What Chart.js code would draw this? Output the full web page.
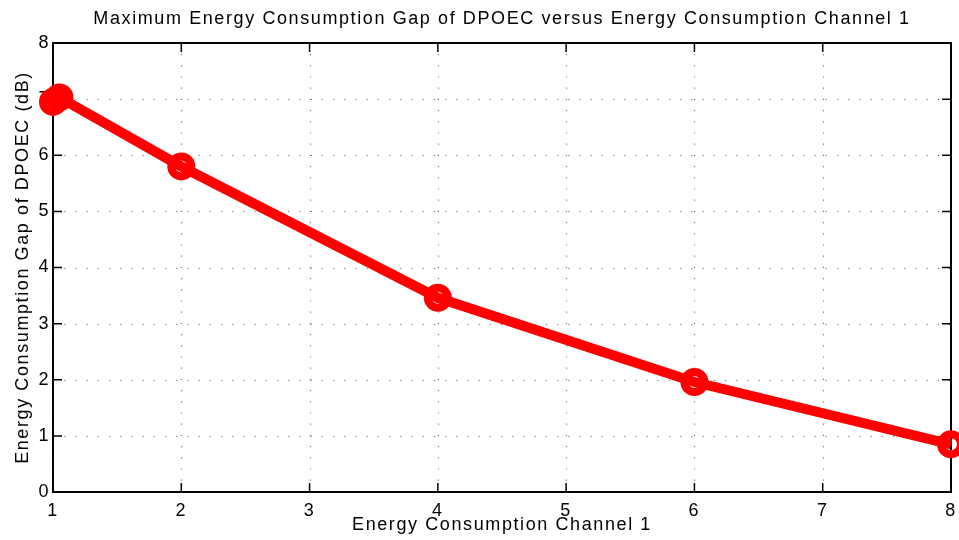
<!DOCTYPE html>
<html>
<head>
<meta charset="utf-8">
<script src="https://cdn.jsdelivr.net/npm/chart.js@4"></script>
<style>
  html, body { margin: 0; padding: 0; background: #fff; }
  #wrap { width: 959px; height: 540px; }
</style>
</head>
<body>
<div id="wrap"><canvas id="c" width="959" height="540"></canvas></div>
<script>
// Energy Consumption Channel 1 values and the corresponding maximum gap (dB)
const channelValues = [1, 1.05, 2, 4, 6, 8];
const gapValues = [6.95, 7.03, 5.80, 3.46, 1.96, 0.85];
const xTickValues = [1, 2, 3, 4, 5, 6, 7, 8];
const yTickValues = [0, 1, 2, 3, 4, 5, 6, 7, 8];

const titleText = 'Maximum Energy Consumption Gap of DPOEC versus Energy Consumption Channel 1';
const xTitleText = 'Energy Consumption Channel 1';
const yTitleText = 'Energy Consumption Gap of DPOEC (dB)';

const FONT = '"Liberation Sans", Arial, Helvetica, sans-serif';

const points = channelValues.map((x, i) => ({ x: x, y: gapValues[i] }));

// Slightly looser lettering, closer to a Helvetica look
const lettering = {
  id: 'lettering',
  beforeDraw(chart) { chart.ctx.letterSpacing = '1.6px'; },
  afterDraw(chart) { chart.ctx.letterSpacing = '0px'; }
};

// Boxed axes with dotted grid and inward ticks on all four sides
const boxAxes = {
  id: 'boxAxes',
  beforeDatasetsDraw(chart) {
    const { ctx, chartArea: a, scales: { x, y } } = chart;
    const tick = 9;
    ctx.save();
    // dotted grid
    ctx.strokeStyle = '#777';
    ctx.lineWidth = 1.2;
    ctx.setLineDash([1.2, 10]);
    xTickValues.forEach(v => {
      const px = Math.round(x.getPixelForValue(v)) + 0.5;
      ctx.beginPath(); ctx.moveTo(px, a.bottom); ctx.lineTo(px, a.top); ctx.stroke();
    });
    yTickValues.forEach(v => {
      const py = Math.round(y.getPixelForValue(v)) + 0.5;
      ctx.beginPath(); ctx.moveTo(a.left, py); ctx.lineTo(a.right, py); ctx.stroke();
    });
    ctx.setLineDash([]);
    // inward ticks
    ctx.strokeStyle = '#000';
    ctx.lineWidth = 1.5;
    xTickValues.forEach(v => {
      const px = x.getPixelForValue(v);
      ctx.beginPath();
      ctx.moveTo(px, a.bottom); ctx.lineTo(px, a.bottom - tick);
      ctx.moveTo(px, a.top); ctx.lineTo(px, a.top + tick);
      ctx.stroke();
    });
    yTickValues.forEach(v => {
      const py = y.getPixelForValue(v);
      ctx.beginPath();
      ctx.moveTo(a.left, py); ctx.lineTo(a.left + tick, py);
      ctx.moveTo(a.right, py); ctx.lineTo(a.right - tick, py);
      ctx.stroke();
    });
    // frame
    ctx.lineWidth = 2;
    ctx.strokeRect(a.left, a.top, a.right - a.left, a.bottom - a.top);
    ctx.restore();
  }
};

new Chart(document.getElementById('c'), {
  type: 'line',
  data: {
    datasets: [{
      data: points,
      borderColor: '#ff0000',
      backgroundColor: 'rgba(0,0,0,0)',
      borderWidth: 10,
      pointRadius: 10,
      pointBorderWidth: 8,
      pointBorderColor: '#ff0000',
      pointBackgroundColor: 'rgba(0,0,0,0)',
      pointStyle: 'circle',
      tension: 0,
      clip: false
    }]
  },
  options: {
    responsive: false,
    animation: false,
    layout: { autoPadding: false, padding: { left: 0, right: 8, top: 0, bottom: 0 } },
    plugins: {
      legend: { display: false },
      tooltip: { enabled: false },
      title: {
        display: true,
        fullSize: false,
        text: titleText,
        color: '#000',
        font: { family: FONT, size: 18, weight: 'normal', lineHeight: 1.2 },
        padding: { top: 8.5, bottom: 12.9 }
      }
    },
    scales: {
      x: {
        type: 'linear',
        min: 1, max: 8,
        afterBuildTicks: s => { s.ticks = xTickValues.map(v => ({ value: v })); },
        afterFit: s => { s.height = 48; s.paddingLeft = 0; s.paddingRight = 0; },
        grid: { display: false, drawTicks: false, tickLength: 0 },
        border: { display: false },
        ticks: { color: '#000', font: { family: FONT, size: 18 }, padding: 8, maxRotation: 0 },
        title: {
          display: true, text: xTitleText, color: '#000',
          font: { family: FONT, size: 18, lineHeight: 1.1 },
          padding: { top: 0, bottom: 4.6 }
        }
      },
      y: {
        type: 'linear',
        min: 0, max: 8,
        afterBuildTicks: s => { s.ticks = yTickValues.map(v => ({ value: v })); },
        afterFit: s => { s.width = 53; },
        grid: { display: false, drawTicks: false, tickLength: 0 },
        border: { display: false },
        ticks: { color: '#000', font: { family: FONT, size: 18 }, padding: 3 },
        title: {
          display: true, text: yTitleText, color: '#000',
          font: { family: FONT, size: 18, lineHeight: 1.1 },
          padding: { top: 13.6, bottom: 0 }
        }
      }
    }
  },
  plugins: [lettering, boxAxes]
});
</script>
</body>
</html>
